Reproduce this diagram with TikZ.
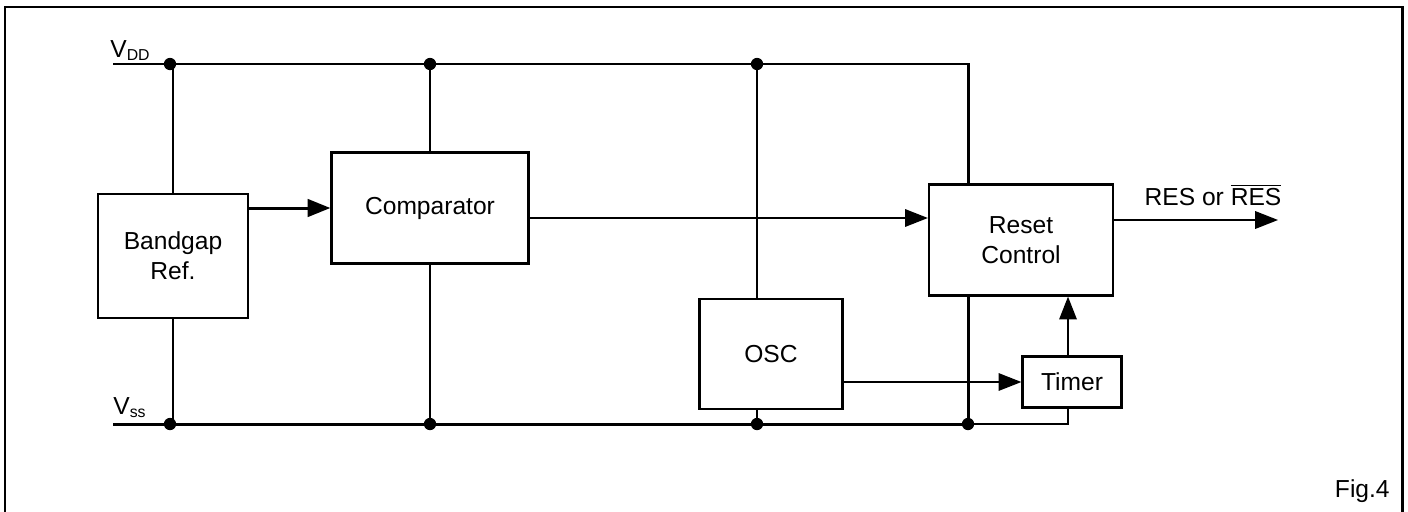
\documentclass[tikz,border=0pt]{standalone}
\usepackage{fontspec}
\setmainfont{Liberation Sans}
\usetikzlibrary{arrows.meta}
\tikzset{
  block/.style={draw, line width=1.3pt, align=center, inner sep=0pt, font=\fontsize{14}{17}\selectfont},
  bus/.style={line width=1.7pt},
  wire/.style={line width=0.85pt},
  sig/.style={-{Triangle[length=13pt,width=10pt]}},
  junc/.style={circle, fill, inner sep=0pt, minimum size=7pt},
  lbl/.style={font=\fontsize{14}{17}\selectfont},
}
\begin{document}
\begin{tikzpicture}[x=0.02cm,y=-0.02cm]
    \useasboundingbox (0,0) rectangle (1408,511);
    \draw[line width=1.7pt] (5,530) -- (5,7) -- (1402,7) -- (1402,530);
    % blocks
    \node[block, minimum width=3cm, minimum height=2.48cm] (bg) at (173,256) {Bandgap\\Ref.};
    \node[block, minimum width=3.94cm, minimum height=2.22cm] (cmp) at (430,208) {Comparator};
    \node[block, minimum width=3.68cm, minimum height=2.22cm] (rst) at (1021,240) {Reset\\Control};
    \node[block, minimum width=2.86cm, minimum height=2.2cm] (osc) at (771,354) {OSC};
    \node[block, minimum width=1.98cm, minimum height=1.02cm] (tmr) at (1072,382) {Timer};
    % supply rails
    \coordinate (vddl) at (113,64);
    \coordinate (vssl) at (113,424);
    \coordinate (vddr) at (968,64);
    \coordinate (vssr) at (968,424);
    \node[lbl, anchor=base west, inner sep=0pt] (vddtxt) at (110,57) {V{\fontsize{9}{10}\selectfont\raisebox{-0.4ex}{DD}}};
    \node[lbl, anchor=base west, inner sep=0pt] (vsstxt) at (113,414) {V{\fontsize{9}{10}\selectfont\raisebox{-0.4ex}{ss}}};
    \draw[bus] (vddl) -- (vddr) -- (rst.north -| vddr);
    \draw[bus] (vssl) -- (vssr) -- (rst.south -| vssr);
    \draw[bus] (bg.north) -- (bg.north |- vddl);
    \draw[bus] (bg.south) -- (bg.south |- vssl);
    \draw[wire] (cmp.north) -- (cmp.north |- vddl);
    \draw[wire] (cmp.south) -- (cmp.south |- vssl);
    \draw[wire] (osc.north -| 757,0) -- (757,64);
    \draw[wire] (osc.south -| 757,0) -- (757,424);
    \draw[wire] (vssr) -- (1068,424) -- (tmr.south -| 1068,0);
    % junctions
    \foreach \x in {170,430,757} {
        \node[junc] at (\x,64) {};
    }
    \foreach \x in {170,430,757,968} {
        \node[junc] at (\x,424) {};
    }
    % signals
    \draw[bus, sig] (bg.east |- cmp) -- (cmp.west);
    \draw[wire, sig] (cmp.east |- 0,218) -- (rst.west |- 0,218);
    \coordinate (out) at (1278,220);
    \draw[wire, sig] (rst.east |- out) -- (out);
    \node[lbl, anchor=base] (outtxt) at (1213,205) {RES or $\overline{\mbox{RES}}$};
    \draw[wire, sig] (osc.east |- tmr) -- (tmr.west);
    \draw[wire, sig] (tmr.north -| 1068,0) -- (rst.south -| 1068,0);
    \node[lbl, anchor=base east, inner sep=0pt] (fig) at (1390,497) {Fig.4};
\end{tikzpicture}
\end{document}
